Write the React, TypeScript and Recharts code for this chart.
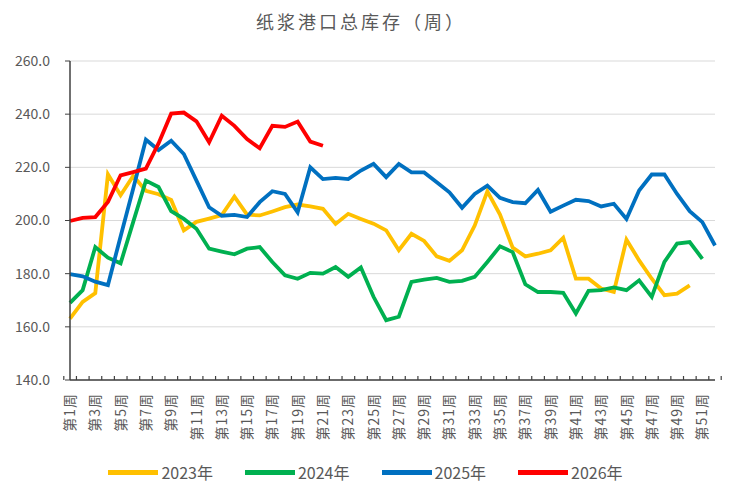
import { LineChart, Line, XAxis, YAxis, CartesianGrid, Legend } from 'recharts';

const weeks = [
  '第1周', '第2周', '第3周', '第4周', '第5周', '第6周', '第7周', '第8周', '第9周', '第10周',
  '第11周', '第12周', '第13周', '第14周', '第15周', '第16周', '第17周', '第18周', '第19周', '第20周',
  '第21周', '第22周', '第23周', '第24周', '第25周', '第26周', '第27周', '第28周', '第29周', '第30周',
  '第31周', '第32周', '第33周', '第34周', '第35周', '第36周', '第37周', '第38周', '第39周', '第40周',
  '第41周', '第42周', '第43周', '第44周', '第45周', '第46周', '第47周', '第48周', '第49周', '第50周',
  '第51周', '第52周',
];

const inv2023 = [
  163.1, 169.4, 172.7, 217.4, 209.5, 216.8, 211.2, 209.9, 207.7, 196.3,
  199.5, 200.7, 202.0, 209.0, 202.2, 201.9, 203.4, 205.0, 206.0, 205.3,
  204.4, 198.7, 202.5, 200.6, 198.8, 196.3, 188.8, 195.0, 192.3, 186.5,
  184.8, 188.8, 198.1, 211.0, 202.2, 189.8, 186.5, 187.5, 188.8, 193.5,
  178.1, 178.1, 174.4, 173.1, 192.8, 185.0, 178.1, 171.9, 172.5, 175.6,
];

const inv2024 = [
  169.0, 173.8, 190.0, 186.0, 183.9, 199.5, 215.0, 212.6, 203.5, 200.6,
  196.9, 189.4, 188.3, 187.3, 189.4, 190.0, 184.4, 179.4, 178.1, 180.3,
  180.0, 182.5, 178.8, 182.3, 171.3, 162.5, 163.8, 176.9, 177.8, 178.4,
  176.9, 177.3, 178.8, 184.4, 190.3, 188.1, 176.0, 173.1, 173.1, 172.8,
  165.0, 173.5, 173.8, 174.8, 173.8, 177.5, 171.3, 184.4, 191.3, 191.9,
  185.6,
];

const inv2025 = [
  179.8, 179.0, 177.0, 175.7, 194.0, 212.0, 230.4, 226.5, 230.0, 225.0,
  215.0, 205.0, 201.8, 202.1, 201.3, 206.9, 211.0, 210.0, 203.1, 220.0,
  215.6, 216.0, 215.6, 218.8, 221.3, 216.3, 221.3, 218.1, 218.1, 214.4,
  210.6, 204.8, 210.0, 213.1, 208.5, 206.9, 206.5, 211.5, 203.3, 205.6,
  207.8, 207.3, 205.3, 206.3, 200.6, 211.3, 217.3, 217.3, 210.0, 203.5,
  199.4, 190.6,
];

const inv2026 = [
  199.8, 201.0, 201.3, 207.0, 217.0, 218.2, 219.5, 229.0, 240.2, 240.6,
  237.3, 229.4, 239.4, 235.6, 230.6, 227.2, 235.6, 235.2, 237.2, 229.7,
  228.1,
];

const yTicks = [140, 160, 180, 200, 220, 240, 260];

const seriesInfo = [
  { key: 'y2023', name: '2023年', color: '#FFC000', values: inv2023 },
  { key: 'y2024', name: '2024年', color: '#00B050', values: inv2024 },
  { key: 'y2025', name: '2025年', color: '#0070C0', values: inv2025 },
  { key: 'y2026', name: '2026年', color: '#FF0000', values: inv2026 },
];

const data = weeks.map((w, i) => {
  const row: Record<string, string | number | null> = { week: w };
  seriesInfo.forEach((s) => {
    row[s.key] = i < s.values.length ? s.values[i] : null;
  });
  return row;
});

const FONT = '"Noto Sans CJK SC", "Noto Sans", sans-serif';
const TEXT_GRAY = '#595959';
const AXIS_COLOR = '#404040';

// excel-style ticks sit between categories, labels on every other week
function WeekTick(props: any) {
  const { x, y, payload, index } = props;
  const half = payload && payload.offset ? payload.offset : 6.2;
  const last = index === weeks.length - 1;
  return (
    <g>
      <line x1={x - half} y1={y} x2={x - half} y2={y - 4} stroke={AXIS_COLOR} strokeWidth={1.2} />
      {last && <line x1={x + half} y1={y} x2={x + half} y2={y - 4} stroke={AXIS_COLOR} strokeWidth={1.2} />}
      {index % 2 === 0 && (
        <g transform={`translate(${x},${y + 13})`}>
          <text
            transform="rotate(-90)"
            textAnchor="end"
            dy="0.36em"
            fontSize={14}
            letterSpacing={1}
            fill={TEXT_GRAY}
            fontFamily={FONT}
          >
            {payload.value}
          </text>
        </g>
      )}
    </g>
  );
}

function LegendBox(props: any) {
  const items = props.payload || [];
  return (
    <div
      style={{
        height: 30,
        display: 'flex',
        justifyContent: 'center',
        alignItems: 'center',
        fontFamily: FONT,
        fontSize: 16,
        color: TEXT_GRAY,
        paddingLeft: 6,
      }}
    >
      {items.map((it: any) => (
        <div key={it.value} style={{ display: 'flex', alignItems: 'center', margin: '0 16px' }}>
          <div style={{ width: 50, height: 5, background: it.color, marginRight: 3 }} />
          <span>{it.value}</span>
        </div>
      ))}
    </div>
  );
}

export default function App() {
  return (
    <div style={{ position: 'absolute', left: 0, top: 0, width: 733, height: 487, background: '#fff' }}>
      <div
        style={{
          position: 'absolute',
          top: 9,
          left: 0,
          width: 722,
          textAlign: 'center',
          fontFamily: FONT,
          fontSize: 18,
          lineHeight: '24px',
          letterSpacing: 3,
          color: TEXT_GRAY,
        }}
      >
        纸浆港口总库存（周）
      </div>
      <LineChart width={733} height={487} data={data} margin={{ top: 61, right: 18, left: 10, bottom: 0 }}>
        <CartesianGrid horizontal vertical={false} stroke="#d9d9d9" strokeWidth={1} />
        <XAxis
          dataKey="week"
          interval={0}
          height={77}
          tickSize={0}
          tickMargin={0}
          tickLine={false}
          axisLine={{ stroke: AXIS_COLOR, strokeWidth: 1.5 }}
          tick={<WeekTick />}
        />
        <YAxis
          width={60}
          domain={[140, 260]}
          ticks={yTicks}
          tickFormatter={(v: number) => v.toFixed(1)}
          tick={{ fill: TEXT_GRAY, fontSize: 14, fontFamily: FONT }}
          tickSize={5}
          tickMargin={15}
          tickLine={{ stroke: AXIS_COLOR }}
          axisLine={{ stroke: AXIS_COLOR, strokeWidth: 1.5 }}
        />
        <Legend verticalAlign="bottom" content={<LegendBox />} />
        {seriesInfo.map((s) => (
          <Line
            key={s.key}
            type="linear"
            dataKey={s.key}
            name={s.name}
            stroke={s.color}
            strokeWidth={3.8}
            dot={false}
            activeDot={false}
            connectNulls={false}
            isAnimationActive={false}
          />
        ))}
      </LineChart>
    </div>
  );
}
